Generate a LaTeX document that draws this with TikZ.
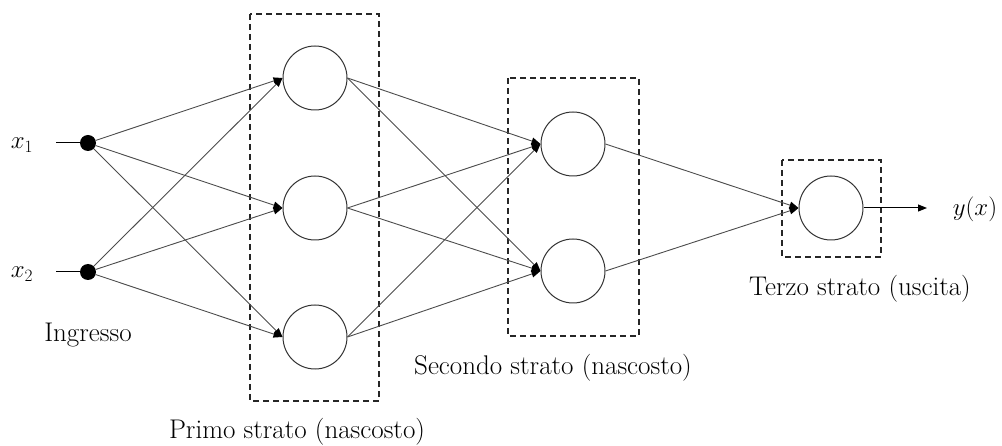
\documentclass[tikz,border=0pt]{standalone}
\usetikzlibrary{arrows.meta}
\begin{document}
\begin{tikzpicture}[x=1pt,y=-1pt,
  neuron/.style={draw=black!80,line width=1pt,circle,minimum size=64pt,inner sep=0pt},
  inp/.style={fill=black,circle,minimum size=16pt,inner sep=0pt},
  conn/.style={draw=black!70,line width=0.9pt,-{Triangle[length=9pt,width=7pt,color=black]}},
  layerbox/.style={draw=black!85,line width=1.3pt,dash pattern=on 6pt off 4pt},
  lbl/.style={font=\fontsize{27}{32}\selectfont,inner sep=0pt}
]
\useasboundingbox (0,0) rectangle (1002,446);
% layer boxes
\draw[layerbox] (250,14) rectangle (379,401);
\draw[layerbox] (508,78) rectangle (639,336);
\draw[layerbox] (782,160) rectangle (881,257);
% nodes
\node[inp] (i1) at (88,143) {};
\node[inp] (i2) at (88,272) {};
\node[neuron] (h1) at (315,78) {};
\node[neuron] (h2) at (315,208) {};
\node[neuron] (h3) at (315,337) {};
\node[neuron] (g1) at (573,144) {};
\node[neuron] (g2) at (573,271) {};
\node[neuron] (o) at (831,208) {};
\coordinate (s1) at (56,143);
\coordinate (s2) at (56,272);
\coordinate (out) at (927,208);
% labels
\node[lbl] (lx1) at (22,145) {$x_1$};
\node[lbl] (lx2) at (22,274) {$x_2$};
\node[lbl] (ly) at (975,209) {$y(x)$};
\node[lbl] (ling) at (88,335) {Ingresso};
\node[lbl] (lp) at (297,432) {Primo strato (nascosto)};
\node[lbl] (ls) at (553,368) {Secondo strato (nascosto)};
\node[lbl] (lt) at (860,289) {Terzo strato (uscita)};
% connectors
\draw[line width=1pt] (s1) -- (i1);
\draw[line width=1pt] (s2) -- (i2);
\foreach \a in {i1,i2}{
  \foreach \b in {h1,h2,h3}{
    \draw[conn] (\a) -- (\b.west);
  }
}
\foreach \a in {h1,h2,h3}{
  \foreach \b in {g1,g2}{
    \draw[conn] (\a.east) -- (\b.west);
  }
}
\draw[conn] (g1.east) -- (o.west);
\draw[conn] (g2.east) -- (o.west);
\draw[line width=1pt,-{Triangle[length=9pt,width=7pt]}] (o.east) -- (out);
\end{tikzpicture}
\end{document}
